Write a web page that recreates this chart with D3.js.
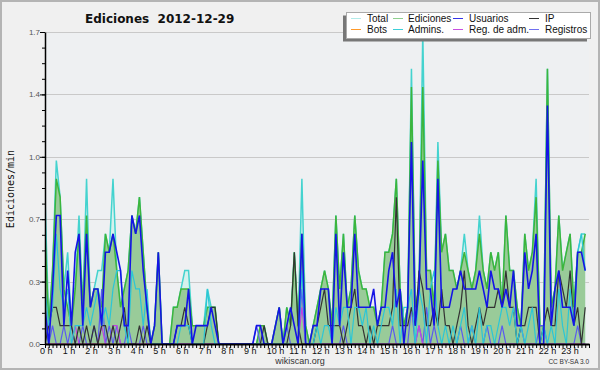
<!DOCTYPE html>
<html><head><meta charset="utf-8">
<script src="https://cdn.jsdelivr.net/npm/d3@7"></script>
<style>body{margin:0;background:#f0f0f0}svg{display:block}</style>
</head><body><div id="graph"></div>
<script>
"use strict"
// 10 minute bins, edits per minute
var hourLabels=['0 h','1 h','2 h','3 h','4 h','5 h','6 h','7 h','8 h','9 h','10 h','11 h','12 h','13 h','14 h','15 h','16 h','17 h','18 h','19 h','20 h','21 h','22 h','23 h']
var yTicks=[0,0.34,0.68,1.02,1.36,1.7]
var seriesNames=['Total','Ediciones','Usuarios','IP','Bots','Admins.','Reg. de adm.','Registros']

var total=[
0.8,0.1,0.4,1.0,0.8,0.3, 0.5,0.1,0.3,0.7,0.2,0.9, 0.2,0.3,0.4,0.4,0.6,0.5, 0.9,0.4,0.2,0.3,0.4,0.7,
0.6,0.8,0.5,0.2,0,0.1, 0.5,0,0,0,0.2,0.2, 0.3,0.4,0.4,0.1,0.1,0.1, 0.1,0.3,0.2,0.2,0,0,
0,0,0,0,0,0, 0,0,0,0.1,0.1,0, 0,0.1,0.2,0,0.2,0.1, 0.5,0.1,0.9,0.1,0,0.1,
0.2,0.3,0.4,0.3,0.1,0.7, 0.3,0.6,0.2,0.3,0.7,0.4, 0.3,0.3,0.2,0.2,0.1,0.2, 0.5,0.5,0.6,0.9,0.3,0.1,
0.2,1.5,0.2,0.3,1.7,0.4, 0.4,0.2,1.1,0.5,0.6,0.4, 0.4,0.3,0.4,0.6,0.4,0.3, 0.4,0.7,0.4,0.3,0.5,0.4,
0.5,0.2,0.7,0.4,0.4,0.2, 0.1,0.6,0.4,0.5,0.9,0.1, 0.1,1.5,0.2,0.3,0.7,0.4, 0.5,0.6,0.2,0.5,0.6,0.6]
var ediciones=[
0.6,0.1,0.4,0.9,0.8,0.3, 0.2,0.1,0.3,0.6,0.2,0.7, 0.2,0.3,0.3,0.2,0.6,0.5, 0.6,0.4,0.2,0.3,0.4,0.7,
0.6,0.8,0.5,0.2,0,0.1, 0.5,0,0,0,0.2,0.2, 0.3,0.3,0.3,0.1,0.1,0.1, 0.1,0.2,0.2,0.2,0,0,
0,0,0,0,0,0, 0,0,0,0.1,0.1,0, 0,0.1,0.2,0,0.2,0.1, 0.5,0.1,0.6,0.1,0,0.1,
0.2,0.3,0.4,0.3,0.1,0.7, 0.3,0.6,0.2,0.3,0.7,0.4, 0.3,0.3,0.2,0.2,0.1,0.2, 0.5,0.5,0.6,0.9,0.3,0.1,
0.2,1.4,0.2,0.3,1.4,0.4, 0.4,0.2,1.0,0.5,0.6,0.4, 0.4,0.3,0.4,0.5,0.4,0.3, 0.4,0.6,0.4,0.3,0.5,0.4,
0.5,0.2,0.7,0.4,0.4,0.2, 0.1,0.6,0.4,0.5,0.8,0.1, 0.1,1.5,0.2,0.3,0.7,0.4, 0.5,0.6,0.2,0.5,0.5,0.6]
var usuarios=[
0.2,0,0.3,0.7,0.7,0.1, 0.4,0.1,0.5,0.6,0.1,0.6, 0.2,0.3,0.3,0.1,0.5,0.5, 0.6,0.5,0.4,0.1,0.1,0.7,
0.6,0.7,0.4,0.2,0,0.1, 0.5,0,0,0,0,0.1, 0.1,0.1,0.3,0,0.1,0.1, 0.1,0.1,0.2,0.1,0,0,
0,0,0,0,0,0, 0,0,0.1,0.1,0,0, 0,0.1,0.2,0,0.1,0.2, 0.1,0,0.6,0,0,0.1,
0.1,0.3,0.3,0.3,0,0.6, 0.1,0.5,0.2,0.2,0.6,0.2, 0.2,0.2,0.2,0.3,0.1,0.2, 0.2,0.4,0.5,0.2,0.3,0,
0.2,1.1,0.1,0.3,1.0,0.3, 0.3,0.1,0.9,0.2,0.2,0.2, 0.3,0.3,0.4,0.3,0.3,0.3, 0.3,0.4,0.3,0.2,0.4,0.3,
0.3,0.2,0.3,0.2,0.4,0.1, 0.1,0.5,0.3,0.4,0.6,0, 0,1.3,0.1,0.3,0.4,0.2, 0.2,0.2,0.1,0.5,0.5,0.4]
var ip=[
0,0.1,0.2,0.2,0.1,0.1, 0.1,0.1,0,0.1,0,0.1, 0,0.1,0,0.1,0.1,0, 0.1,0,0.1,0.2,0,0,
0,0.1,0,0.1,0,0, 0,0,0,0,0,0.1, 0.1,0.2,0.1,0,0,0, 0,0.1,0.2,0.2,0,0,
0,0,0,0,0,0, 0,0,0,0,0.1,0, 0,0,0,0,0,0.1, 0.5,0.1,0,0,0,0,
0.1,0.2,0.3,0.1,0.1,0.1, 0.1,0,0.1,0.2,0.3,0.1, 0.1,0,0.1,0,0.1,0.1, 0.1,0.1,0.2,0.8,0.1,0.1,
0.1,0.2,0.1,0.4,0.3,0.1, 0.1,0.2,0.1,0.3,0.1,0.1, 0,0.1,0.2,0.4,0.1,0, 0.1,0.2,0.1,0.2,0.2,0.2,
0.3,0.2,0.4,0.2,0.2,0, 0.1,0.1,0.2,0.2,0.2,0, 0.1,0.2,0.1,0.1,0.4,0.3, 0.2,0.4,0.1,0.2,0,0.2]
var bots=[
0,0,0,0,0,0, 0,0,0,0,0,0, 0,0,0,0,0,0, 0,0,0,0,0,0,
0,0,0,0,0,0, 0,0,0,0,0,0, 0,0,0,0,0,0, 0,0,0,0,0,0,
0,0,0,0,0,0, 0,0,0,0,0,0, 0,0,0,0,0,0, 0,0,0,0,0,0,
0,0,0,0,0,0, 0,0,0,0,0,0, 0,0,0,0,0,0, 0,0,0,0,0,0,
0,0,0,0,0,0, 0,0,0,0,0,0, 0,0,0,0,0,0, 0,0,0,0,0,0,
0,0,0,0,0,0, 0,0,0,0,0,0, 0,0,0,0,0,0, 0,0,0,0,0,0]
var admins=[
0.3,0.1,0.2,0.6,0.3,0.2, 0.3,0,0.1,0.1,0.1,0.2, 0.1,0.2,0.3,0.1,0.2,0.1, 0.3,0.4,0.4,0.1,0,0.4,
0.3,0.3,0.1,0.3,0,0, 0,0,0,0,0,0, 0.1,0.1,0.1,0,0,0, 0,0.3,0.1,0,0,0,
0,0,0,0,0,0, 0,0,0,0,0,0, 0,0,0,0,0,0, 0,0,0.4,0,0,0,
0.1,0,0.1,0.1,0,0.2, 0.1,0.2,0.2,0,0.2,0.2, 0.1,0.2,0,0.1,0,0.1, 0.2,0.2,0.1,0.3,0,0.2,
0.2,0.3,0,0.3,0.2,0, 0.3,0.4,0.1,0,0.1,0, 0.1,0,0.1,0.2,0,0.1, 0,0.2,0,0.1,0.1,0,
0.1,0.2,0.2,0.1,0.2,0, 0.1,0,0.1,0.2,0,0, 0.1,0,0.1,0,0.3,0.1, 0,0.3,0.1,0.5,0.6,0.4]
var regAdm=[
0,0,0,0,0,0, 0,0,0.1,0,0,0, 0,0,0,0.1,0,0, 0.1,0.1,0,0,0,0,
0,0,0,0,0,0, 0,0,0,0,0,0, 0,0,0,0,0,0, 0,0,0,0,0,0,
0,0,0,0,0,0, 0,0,0,0,0,0, 0,0,0,0,0,0, 0,0,0.2,0,0,0,
0,0,0,0,0,0, 0,0,0,0,0,0, 0,0,0,0,0,0, 0,0,0,0,0,0,
0,0,0,0.1,0,0, 0,0,0,0,0,0, 0,0,0,0,0,0, 0,0,0,0,0,0,
0,0,0,0,0,0, 0,0,0,0,0,0, 0,0,0,0,0,0, 0,0,0,0,0,0]
var registros=[
0.1,0,0.1,0,0,0.1, 0,0.1,0,0,0.1,0, 0,0.1,0,0.3,0,0.1, 0,0.1,0,0,0.1,0,
0,0,0.1,0,0,0, 0,0,0,0,0,0, 0,0,0,0,0,0, 0,0,0,0,0,0,
0,0,0,0,0,0, 0,0,0.1,0,0,0, 0,0,0,0,0.1,0, 0,0,0.3,0,0,0,
0,0,0,0,0,0, 0,0.1,0,0,0,0, 0,0,0,0,0,0, 0,0,0.1,0,0,0,
0,0.2,0,0.1,0,0.2, 0,0.1,0,0,0,0, 0,0,0.1,0,0,0.1, 0,0,0,0.1,0,0,
0,0.1,0,0,0,0, 0.1,0,0,0,0,0.1, 0.1,0,0,0,0,0, 0,0,0,0.1,0,0]

var W=600,H=370
var pLeft=45,pRight=589,pTop=32,pBottom=344

var svg=d3.select('#graph').append('svg:svg').attr('width',W).attr('height',H)
svg.append('svg:rect').attr('x',1).attr('y',1).attr('width',W-2).attr('height',H-2)
  .attr('fill','#f0f0f0').attr('stroke','#b4b4b4').attr('stroke-width',2)

var x=d3.scaleLinear().domain([0,total.length]).range([pLeft,pRight])
var y=d3.scaleLinear().domain([0,1.7]).range([pBottom,pTop])

svg.append('svg:rect').attr('x',pLeft).attr('y',pTop).attr('width',pRight-pLeft).attr('height',pBottom-pTop).attr('fill','#eef0f2')

// grid
svg.append('svg:g').selectAll('line').data(yTicks).join('line')
  .attr('x1',pLeft).attr('x2',pRight)
  .attr('y1',function(d){return Math.round(y(d))+.5}).attr('y2',function(d){return Math.round(y(d))+.5})
  .attr('stroke','#c9c9c9').attr('stroke-width',1)

svg.append('svg:defs').append('svg:clipPath').attr('id','clip').append('svg:rect')
  .attr('x',pLeft).attr('y',pTop-2).attr('width',pRight-pLeft).attr('height',pBottom-pTop+2)

var plot=svg.append('svg:g').attr('clip-path','url(#clip)')
var px=function(d,i){return x(i)}
var area=d3.area().x(px).y0(y(0)).y1(function(d){return y(d)})
var line=d3.line().x(px).y(function(d){return y(d)})

plot.append('svg:path').datum(total).attr('d',area).attr('fill','#d5f1ed')
plot.append('svg:path').datum(total).attr('d',line).attr('fill','none').attr('stroke','#44d3cf').attr('stroke-width',1.5)
plot.append('svg:path').datum(ediciones).attr('d',area).attr('fill','#99cb99')
plot.append('svg:path').datum(ediciones).attr('d',line).attr('fill','none').attr('stroke','#3cb53c').attr('stroke-width',1.5)

var lines=[
  {d:bots,c:'#ff9a2a',w:1},
  {d:registros,c:'#5a5af0',w:1.2},
  {d:regAdm,c:'#c044e0',w:1.2},
  {d:ip,c:'#333333',w:1.2},
  {d:admins,c:'#2cc6d6',w:1.2},
  {d:usuarios,c:'#1414e6',w:1.6}
]
for(var i=0;i<lines.length;i++)
  plot.append('svg:path').datum(lines[i].d).attr('d',line).attr('fill','none').attr('stroke',lines[i].c).attr('stroke-width',lines[i].w)

// x axis: a tick every 10 minutes
var gx=svg.append('svg:g').attr('transform','translate(0,'+pBottom+')')
  .call(d3.axisBottom(x).tickValues(d3.range(0,total.length+1)).tickSize(4).tickSizeOuter(0).tickFormat(''))
gx.select('.domain').attr('stroke','#000').attr('stroke-width',2)
gx.selectAll('.tick line').attr('stroke','#000')
svg.append('svg:g').selectAll('text').data(hourLabels).join('text')
  .attr('x',function(d,i){return x(i*6)-5}).attr('y',354)
  .attr('font-family','Liberation Sans').attr('font-size',9).attr('fill','#111')
  .text(function(d){return d})

// y axis
var minor=d3.range(0,1.7001,0.085)
var gyMinor=svg.append('svg:g').attr('transform','translate('+pLeft+',0)')
  .call(d3.axisLeft(y).tickValues(minor).tickSize(3).tickSizeOuter(0).tickFormat(''))
gyMinor.select('.domain').remove()
var gy=svg.append('svg:g').attr('transform','translate('+pLeft+',0)')
  .call(d3.axisLeft(y).tickValues(yTicks).tickSize(5).tickSizeOuter(0).tickPadding(0).tickFormat(function(d){return d.toFixed(1)}))
gy.select('.domain').attr('stroke','#000').attr('stroke-width',1.5)
gy.selectAll('text').attr('font-family','Liberation Sans').attr('font-size',8).attr('fill','#555')

// titles
svg.append('svg:text').attr('x',85).attr('y',23).attr('font-family','DejaVu Sans').attr('font-weight','bold')
  .attr('font-size',12).style('white-space','pre').attr('fill','#111').text('Ediciones  2012-12-29')
svg.append('svg:text').attr('transform','translate(14,189)rotate(-90)').attr('text-anchor','middle')
  .attr('font-family','DejaVu Sans Mono').attr('font-size',10).attr('fill','#111').text('Ediciones/min')
svg.append('svg:text').attr('x',300).attr('y',364).attr('text-anchor','middle')
  .attr('font-family','Liberation Sans').attr('font-size',9).attr('fill','#333').text('wikiscan.org')
svg.append('svg:text').attr('x',589).attr('y',364).attr('text-anchor','end')
  .attr('font-family','Liberation Sans').attr('font-size',6.5).attr('fill','#333').text('CC BY-SA 3.0')

// legend
var legendColors=['#b2ebe9','#8fd08f','#3434e8','#333333','#ff9a2a','#3ccfd8','#c84fe0','#7070f0']
var colX=[351,393,453,529],textX=[367,408,469,545]
var lg=svg.append('svg:g')
lg.append('svg:rect').attr('x',343).attr('y',15.5).attr('width',244).attr('height',26).attr('fill','#777')
lg.append('svg:rect').attr('x',346.5).attr('y',12.5).attr('width',244).attr('height',26).attr('fill','#fff').attr('stroke','#aaa')
for(i=0;i<seriesNames.length;i++){
  var col=i%4,row=Math.floor(i/4)
  lg.append('svg:line').attr('x1',colX[col]).attr('x2',colX[col]+10).attr('y1',18.5+row*11).attr('y2',18.5+row*11)
    .attr('stroke',legendColors[i]).attr('stroke-width',1)
  lg.append('svg:text').attr('x',textX[col]).attr('y',22+row*11).attr('font-family','Liberation Sans').attr('font-size',10)
    .attr('fill','#111').text(seriesNames[i])
}
</script>
</body></html>
